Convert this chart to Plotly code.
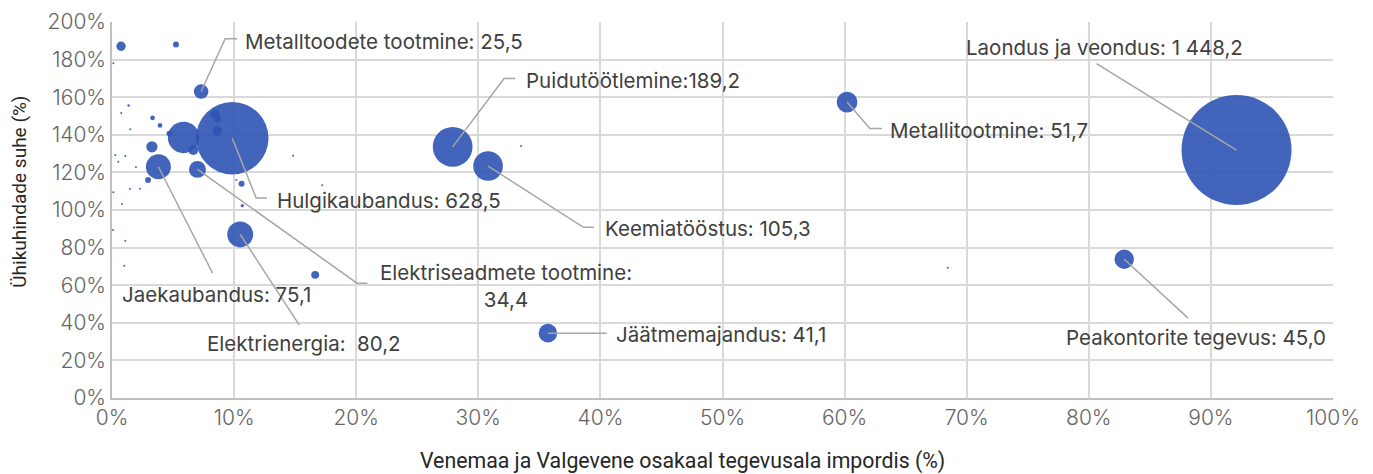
import plotly.graph_objects as go

# Labelled sectors
sectors = ["Laondus ja veondus", "Hulgikaubandus", "Puidutöötlemine", "Keemiatööstus",
           "Metallitootmine", "Peakontorite tegevus", "Jäätmemajandus", "Elektrienergia",
           "Jaekaubandus", "Elektriseadmete tootmine", "Metalltoodete tootmine"]
sector_share = [92.1, 9.85, 27.9, 30.8, 60.2, 82.9, 35.7, 10.5, 3.8, 7.0, 7.3]
sector_ratio = [131.9, 138.2, 133.6, 123.4, 157.4, 73.8, 34.5, 87.0, 123.0, 121.6, 163.0]
sector_size = [1448.2, 628.5, 189.2, 105.3, 51.7, 45.0, 41.1, 80.2, 75.1, 34.4, 25.5]
label_text = ["Laondus ja veondus: 1 448,2", "Hulgikaubandus: 628,5", "Puidutöötlemine:189,2",
              "Keemiatööstus: 105,3", "Metallitootmine: 51,7", "Peakontorite tegevus: 45,0",
              "Jäätmemajandus: 41,1", "Elektrienergia:\u00a0 80,2", "Jaekaubandus: 75,1",
              "Elektriseadmete tootmine:<br>34,4", "Metalltoodete tootmine: 25,5"]

# Other (unlabelled) sectors
other_share = [0.74, 5.24, 3.27, 5.86, 4.69, 3.32, 3.93, 8.46, 8.68, 8.60, 6.66, 2.95, 10.61,
               10.67, 1.36, 16.64, 1.50, 0.27, 0.52, 1.09, 1.96, 1.47, 2.29, 0.82, 1.09, 1.01,
               0.08, 0.11, 0.11, 0.76, 14.84, 33.5, 68.45, 17.22, 10.18]
other_ratio = [187.1, 188.0, 133.6, 138.6, 140.7, 149.0, 145.0, 151.0, 148.2, 142.1, 131.9, 115.9,
               114.0, 102.3, 155.6, 65.5, 143.0, 129.2, 125.7, 128.7, 122.8, 111.2, 111.3, 103.2,
               83.7, 70.3, 89.4, 109.5, 178.1, 151.6, 128.8, 134.0, 69.3, 113.1, 115.9]
other_size = [10.5, 4.3, 15, 118, 3.5, 2.6, 2.6, 10.5, 5, 10.5, 12, 4.3, 4.3,
              1.3, 0.8, 7.6, 0.15, 0.15, 0.15, 0.15, 0.15, 0.15, 0.15, 0.15, 0.15, 0.15,
              0.15, 0.15, 0.15, 0.15, 0.15, 0.15, 0.15, 0.15, 0.15]

# Label placement (data coords): leader elbow points and text anchor
leader_x = [[80.63], [11.81, 12.69], [32.11, 33.02], [38.61, 39.48], [62.07, 63.05], [88.13],
            [40.52], [15.33], [8.24], [20.06, 20.92], [9.27, 10.25]]
leader_y = [[177.9], [106.4, 106.4], [169.9, 169.9], [90.8, 90.8], [143.4, 143.4], [42.5],
            [34.5], [38.9], [66.4], [61.1, 61.1], [191.1, 191.1]]
text_x = [81.29, 13.37, 33.76, 40.19, 63.54, 88.76, 41.14, 15.74, 8.58, 32.27, 10.75]
text_y = [186.7, 105.2, 168.7, 90.3, 142.5, 32.0, 33.6, 29.2, 54.9, 59.7, 189.8]
text_anchor = ["center", "left", "left", "left", "left", "center", "left", "center", "center",
               "center", "left"]

x_title = "Venemaa ja Valgevene osakaal tegevusala impordis (%)"
y_title = "Ühikuhindade suhe (%)"

x_ticks = list(range(0, 101, 10))
y_ticks = list(range(0, 201, 20))

max_d = 110
sizeref = 2 * max(sector_size) / max_d ** 2
bubble_color = "rgb(46,84,180)"

fig = go.Figure()
fig.add_trace(go.Scatter(
    x=other_share, y=other_ratio, mode="markers",
    marker=dict(size=other_size, sizemode="area", sizeref=sizeref, sizemin=1,
                color=bubble_color, opacity=0.9, line=dict(width=0)),
    hoverinfo="skip", showlegend=False))
fig.add_trace(go.Scatter(
    x=sector_share, y=sector_ratio, mode="markers",
    marker=dict(size=sector_size, sizemode="area", sizeref=sizeref, sizemin=1,
                color=bubble_color, opacity=0.9, line=dict(width=0)),
    text=sectors, showlegend=False))

for i in range(len(sectors)):
    fig.add_trace(go.Scatter(
        x=[sector_share[i]] + leader_x[i], y=[sector_ratio[i]] + leader_y[i],
        mode="lines", line=dict(color="#a6a6a6", width=1.5),
        hoverinfo="skip", showlegend=False))
    fig.add_annotation(x=text_x[i], y=text_y[i], xref="x", yref="y", text=label_text[i],
                       showarrow=False, xanchor=text_anchor[i], yanchor="middle",
                       align="center", font=dict(family="Inter", size=20.5, color="#404040"))

# Axis titles
fig.add_annotation(x=0.467, y=-0.168, xref="paper", yref="paper", text=x_title,
                   showarrow=False, xanchor="center", yanchor="middle",
                   font=dict(family="Roboto", size=21.3, color="#262626"))
fig.add_annotation(x=-0.076, y=0.549, xref="paper", yref="paper", text=y_title,
                   showarrow=False, xanchor="center", yanchor="middle", textangle=-90,
                   font=dict(family="Roboto", size=19, color="#262626"))

fig.update_layout(
    width=1365, height=466,
    margin=dict(l=104, r=40, t=14, b=76),
    paper_bgcolor="white", plot_bgcolor="white",
    font=dict(family="Inter", color="#595959"),
    xaxis=dict(range=[0, 100], tickvals=x_ticks, ticktext=[f"{v}%" for v in x_ticks],
               showgrid=True, gridcolor="#d9d9d9", gridwidth=1.5, automargin=False,
               showline=True, linecolor="#bfbfbf", linewidth=1.5, zeroline=False,
               tickfont=dict(family="Inter", size=21, color="#666666", weight=300), ticks=""),
    yaxis=dict(range=[0, 200], tickvals=y_ticks, ticktext=[f"{v}%" for v in y_ticks],
               showgrid=True, gridcolor="#d9d9d9", gridwidth=1.5, automargin=False,
               showline=True, linecolor="#bfbfbf", linewidth=1.5, zeroline=False,
               tickfont=dict(family="Inter", size=21, color="#666666", weight=300), ticks=""),
)

fig.write_html("out.html")
